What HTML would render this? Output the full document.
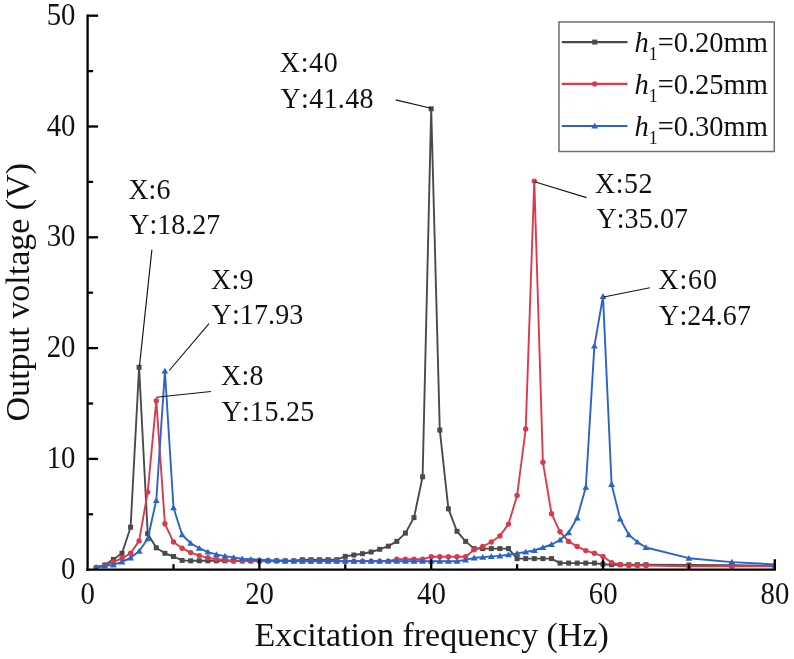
<!DOCTYPE html>
<html lang="en">
<head>
<meta charset="utf-8">
<title>Output voltage vs excitation frequency</title>
<style>
html,body{margin:0;padding:0;background:#fff;}
body{width:794px;height:659px;overflow:hidden;font-family:"Liberation Serif",serif;}
svg{display:block;}
text{font-kerning:none;}
</style>
</head>
<body>
<svg width="794" height="659" viewBox="0 0 794 659">
<rect width="794" height="659" fill="#fff"/>
<defs><clipPath id="plot"><rect x="87.6" y="0" width="687.8" height="570.2"/></clipPath></defs>
<g clip-path="url(#plot)">
<polyline points="96.2,567.5 104.8,565.0 113.4,559.4 122.0,553.3 130.6,527.2 139.1,367.3 147.7,533.7 156.3,547.8 164.9,553.3 173.5,556.5 182.1,560.4 190.7,560.8 199.3,560.8 207.9,560.8 216.4,560.8 225.0,560.8 233.6,560.8 242.2,560.8 250.8,560.8 259.4,560.8 268.0,560.8 276.6,560.8 285.2,560.8 293.8,560.8 302.4,559.7 310.9,559.7 319.5,559.7 328.1,559.7 336.7,559.7 345.3,556.4 353.9,555.0 362.5,553.7 371.1,552.0 379.7,549.3 388.2,546.2 396.8,541.4 405.4,533.1 414.0,517.6 422.6,476.8 431.2,108.8 439.8,430.1 448.4,508.8 457.0,531.3 465.6,541.4 474.1,548.6 482.7,548.6 491.3,548.6 499.9,548.6 508.5,548.6 517.1,558.6 525.7,558.6 534.3,558.6 542.9,558.6 551.5,558.6 560.0,563.1 568.6,563.1 577.2,563.1 585.8,563.1 594.4,563.1 603.0,564.2 611.6,564.7 620.2,564.7 628.8,564.7 637.4,564.7 646.0,564.7 688.9,565.0 731.9,565.3 774.8,565.8" fill="none" stroke="#4a4a4a" stroke-width="1.9" stroke-linejoin="round"/>
<g fill="#4a4a4a">
<rect x="93.7" y="565.0" width="5.0" height="5.0"/>
<rect x="102.3" y="562.5" width="5.0" height="5.0"/>
<rect x="110.9" y="556.9" width="5.0" height="5.0"/>
<rect x="119.5" y="550.8" width="5.0" height="5.0"/>
<rect x="128.1" y="524.7" width="5.0" height="5.0"/>
<rect x="136.6" y="364.8" width="5.0" height="5.0"/>
<rect x="145.2" y="531.2" width="5.0" height="5.0"/>
<rect x="153.8" y="545.3" width="5.0" height="5.0"/>
<rect x="162.4" y="550.8" width="5.0" height="5.0"/>
<rect x="171.0" y="554.0" width="5.0" height="5.0"/>
<rect x="179.6" y="557.9" width="5.0" height="5.0"/>
<rect x="188.2" y="558.3" width="5.0" height="5.0"/>
<rect x="196.8" y="558.3" width="5.0" height="5.0"/>
<rect x="205.4" y="558.3" width="5.0" height="5.0"/>
<rect x="213.9" y="558.3" width="5.0" height="5.0"/>
<rect x="222.5" y="558.3" width="5.0" height="5.0"/>
<rect x="231.1" y="558.3" width="5.0" height="5.0"/>
<rect x="239.7" y="558.3" width="5.0" height="5.0"/>
<rect x="248.3" y="558.3" width="5.0" height="5.0"/>
<rect x="256.9" y="558.3" width="5.0" height="5.0"/>
<rect x="265.5" y="558.3" width="5.0" height="5.0"/>
<rect x="274.1" y="558.3" width="5.0" height="5.0"/>
<rect x="282.7" y="558.3" width="5.0" height="5.0"/>
<rect x="291.3" y="558.3" width="5.0" height="5.0"/>
<rect x="299.9" y="557.2" width="5.0" height="5.0"/>
<rect x="308.4" y="557.2" width="5.0" height="5.0"/>
<rect x="317.0" y="557.2" width="5.0" height="5.0"/>
<rect x="325.6" y="557.2" width="5.0" height="5.0"/>
<rect x="334.2" y="557.2" width="5.0" height="5.0"/>
<rect x="342.8" y="553.9" width="5.0" height="5.0"/>
<rect x="351.4" y="552.5" width="5.0" height="5.0"/>
<rect x="360.0" y="551.2" width="5.0" height="5.0"/>
<rect x="368.6" y="549.5" width="5.0" height="5.0"/>
<rect x="377.2" y="546.8" width="5.0" height="5.0"/>
<rect x="385.8" y="543.7" width="5.0" height="5.0"/>
<rect x="394.3" y="538.9" width="5.0" height="5.0"/>
<rect x="402.9" y="530.6" width="5.0" height="5.0"/>
<rect x="411.5" y="515.1" width="5.0" height="5.0"/>
<rect x="420.1" y="474.3" width="5.0" height="5.0"/>
<rect x="428.7" y="106.3" width="5.0" height="5.0"/>
<rect x="437.3" y="427.6" width="5.0" height="5.0"/>
<rect x="445.9" y="506.3" width="5.0" height="5.0"/>
<rect x="454.5" y="528.8" width="5.0" height="5.0"/>
<rect x="463.1" y="538.9" width="5.0" height="5.0"/>
<rect x="471.6" y="546.1" width="5.0" height="5.0"/>
<rect x="480.2" y="546.1" width="5.0" height="5.0"/>
<rect x="488.8" y="546.1" width="5.0" height="5.0"/>
<rect x="497.4" y="546.1" width="5.0" height="5.0"/>
<rect x="506.0" y="546.1" width="5.0" height="5.0"/>
<rect x="514.6" y="556.1" width="5.0" height="5.0"/>
<rect x="523.2" y="556.1" width="5.0" height="5.0"/>
<rect x="531.8" y="556.1" width="5.0" height="5.0"/>
<rect x="540.4" y="556.1" width="5.0" height="5.0"/>
<rect x="549.0" y="556.1" width="5.0" height="5.0"/>
<rect x="557.5" y="560.6" width="5.0" height="5.0"/>
<rect x="566.1" y="560.6" width="5.0" height="5.0"/>
<rect x="574.7" y="560.6" width="5.0" height="5.0"/>
<rect x="583.3" y="560.6" width="5.0" height="5.0"/>
<rect x="591.9" y="560.6" width="5.0" height="5.0"/>
<rect x="600.5" y="561.7" width="5.0" height="5.0"/>
<rect x="609.1" y="562.2" width="5.0" height="5.0"/>
<rect x="617.7" y="562.2" width="5.0" height="5.0"/>
<rect x="626.3" y="562.2" width="5.0" height="5.0"/>
<rect x="634.9" y="562.2" width="5.0" height="5.0"/>
<rect x="643.5" y="562.2" width="5.0" height="5.0"/>
<rect x="686.4" y="562.5" width="5.0" height="5.0"/>
<rect x="729.4" y="562.8" width="5.0" height="5.0"/>
<rect x="772.3" y="563.3" width="5.0" height="5.0"/>
</g>
<polyline points="96.2,567.5 104.8,565.3 113.4,561.9 122.0,558.4 130.6,553.3 139.1,540.9 147.7,492.1 156.3,400.7 164.9,523.8 173.5,542.0 182.1,548.2 190.7,552.6 199.3,555.6 207.9,557.8 216.4,559.2 225.0,559.9 233.6,561.1 242.2,561.1 250.8,561.1 259.4,561.1 268.0,561.1 276.6,561.1 285.2,561.1 293.8,561.1 302.4,561.1 310.9,561.1 319.5,561.1 328.1,561.1 336.7,561.1 345.3,561.1 353.9,561.1 362.5,561.1 371.1,561.1 379.7,561.1 388.2,561.1 396.8,559.2 405.4,559.2 414.0,559.2 422.6,559.2 431.2,556.8 439.8,556.8 448.4,556.8 457.0,556.8 465.6,556.8 474.1,549.8 482.7,546.5 491.3,542.0 499.9,535.9 508.5,524.1 517.1,495.5 525.7,429.0 534.3,181.1 542.9,462.2 551.5,513.7 560.0,531.8 568.6,541.4 577.2,546.5 585.8,550.6 594.4,553.3 603.0,556.4 611.6,562.6 620.2,564.6 628.8,565.5 637.4,565.5 646.0,565.5 688.9,566.2 731.9,566.2 774.8,566.2" fill="none" stroke="#db3a4c" stroke-width="1.9" stroke-linejoin="round"/>
<g fill="#db3a4c">
<circle cx="96.2" cy="567.5" r="2.7"/>
<circle cx="104.8" cy="565.3" r="2.7"/>
<circle cx="113.4" cy="561.9" r="2.7"/>
<circle cx="122.0" cy="558.4" r="2.7"/>
<circle cx="130.6" cy="553.3" r="2.7"/>
<circle cx="139.1" cy="540.9" r="2.7"/>
<circle cx="147.7" cy="492.1" r="2.7"/>
<circle cx="156.3" cy="400.7" r="2.7"/>
<circle cx="164.9" cy="523.8" r="2.7"/>
<circle cx="173.5" cy="542.0" r="2.7"/>
<circle cx="182.1" cy="548.2" r="2.7"/>
<circle cx="190.7" cy="552.6" r="2.7"/>
<circle cx="199.3" cy="555.6" r="2.7"/>
<circle cx="207.9" cy="557.8" r="2.7"/>
<circle cx="216.4" cy="559.2" r="2.7"/>
<circle cx="225.0" cy="559.9" r="2.7"/>
<circle cx="233.6" cy="561.1" r="2.7"/>
<circle cx="242.2" cy="561.1" r="2.7"/>
<circle cx="250.8" cy="561.1" r="2.7"/>
<circle cx="259.4" cy="561.1" r="2.7"/>
<circle cx="268.0" cy="561.1" r="2.7"/>
<circle cx="276.6" cy="561.1" r="2.7"/>
<circle cx="285.2" cy="561.1" r="2.7"/>
<circle cx="293.8" cy="561.1" r="2.7"/>
<circle cx="302.4" cy="561.1" r="2.7"/>
<circle cx="310.9" cy="561.1" r="2.7"/>
<circle cx="319.5" cy="561.1" r="2.7"/>
<circle cx="328.1" cy="561.1" r="2.7"/>
<circle cx="336.7" cy="561.1" r="2.7"/>
<circle cx="345.3" cy="561.1" r="2.7"/>
<circle cx="353.9" cy="561.1" r="2.7"/>
<circle cx="362.5" cy="561.1" r="2.7"/>
<circle cx="371.1" cy="561.1" r="2.7"/>
<circle cx="379.7" cy="561.1" r="2.7"/>
<circle cx="388.2" cy="561.1" r="2.7"/>
<circle cx="396.8" cy="559.2" r="2.7"/>
<circle cx="405.4" cy="559.2" r="2.7"/>
<circle cx="414.0" cy="559.2" r="2.7"/>
<circle cx="422.6" cy="559.2" r="2.7"/>
<circle cx="431.2" cy="556.8" r="2.7"/>
<circle cx="439.8" cy="556.8" r="2.7"/>
<circle cx="448.4" cy="556.8" r="2.7"/>
<circle cx="457.0" cy="556.8" r="2.7"/>
<circle cx="465.6" cy="556.8" r="2.7"/>
<circle cx="474.1" cy="549.8" r="2.7"/>
<circle cx="482.7" cy="546.5" r="2.7"/>
<circle cx="491.3" cy="542.0" r="2.7"/>
<circle cx="499.9" cy="535.9" r="2.7"/>
<circle cx="508.5" cy="524.1" r="2.7"/>
<circle cx="517.1" cy="495.5" r="2.7"/>
<circle cx="525.7" cy="429.0" r="2.7"/>
<circle cx="534.3" cy="181.1" r="2.7"/>
<circle cx="542.9" cy="462.2" r="2.7"/>
<circle cx="551.5" cy="513.7" r="2.7"/>
<circle cx="560.0" cy="531.8" r="2.7"/>
<circle cx="568.6" cy="541.4" r="2.7"/>
<circle cx="577.2" cy="546.5" r="2.7"/>
<circle cx="585.8" cy="550.6" r="2.7"/>
<circle cx="594.4" cy="553.3" r="2.7"/>
<circle cx="603.0" cy="556.4" r="2.7"/>
<circle cx="611.6" cy="562.6" r="2.7"/>
<circle cx="620.2" cy="564.6" r="2.7"/>
<circle cx="628.8" cy="565.5" r="2.7"/>
<circle cx="637.4" cy="565.5" r="2.7"/>
<circle cx="646.0" cy="565.5" r="2.7"/>
<circle cx="688.9" cy="566.2" r="2.7"/>
<circle cx="731.9" cy="566.2" r="2.7"/>
<circle cx="774.8" cy="566.2" r="2.7"/>
</g>
<polyline points="96.2,567.5 104.8,565.8 113.4,564.9 122.0,561.9 130.6,557.8 139.1,551.3 147.7,538.7 156.3,500.3 164.9,371.0 173.5,507.7 182.1,534.7 190.7,543.2 199.3,548.2 207.9,552.1 216.4,554.4 225.0,556.1 233.6,557.4 242.2,558.6 250.8,559.2 259.4,559.7 268.0,560.2 276.6,560.5 285.2,560.8 293.8,561.1 302.4,561.2 310.9,561.2 319.5,561.2 328.1,561.2 336.7,561.2 345.3,561.2 353.9,561.2 362.5,561.2 371.1,561.2 379.7,561.2 388.2,561.2 396.8,561.2 405.4,561.2 414.0,561.2 422.6,561.2 431.2,561.2 439.8,561.2 448.4,561.2 457.0,561.2 465.6,559.9 474.1,557.8 482.7,557.3 491.3,556.4 499.9,555.9 508.5,554.7 517.1,553.4 525.7,552.0 534.3,550.5 542.9,547.5 551.5,544.5 560.0,540.0 568.6,532.7 577.2,517.8 585.8,487.2 594.4,345.9 603.0,296.4 611.6,484.4 620.2,519.0 628.8,534.7 637.4,542.1 646.0,547.5 688.9,558.2 731.9,562.1 774.8,564.4" fill="none" stroke="#2a64c8" stroke-width="1.9" stroke-linejoin="round"/>
<g fill="#2a64c8">
<polygon points="96.2,564.2 92.8,570.0 99.6,570.0"/>
<polygon points="104.8,562.6 101.4,568.3 108.2,568.3"/>
<polygon points="113.4,561.7 109.9,567.5 116.8,567.5"/>
<polygon points="122.0,558.7 118.5,564.5 125.4,564.5"/>
<polygon points="130.6,554.6 127.1,560.4 134.0,560.4"/>
<polygon points="139.1,548.1 135.7,553.8 142.6,553.8"/>
<polygon points="147.7,535.4 144.3,541.2 151.1,541.2"/>
<polygon points="156.3,497.1 152.9,502.9 159.7,502.9"/>
<polygon points="164.9,367.8 161.5,373.6 168.3,373.6"/>
<polygon points="173.5,504.4 170.1,510.2 176.9,510.2"/>
<polygon points="182.1,531.4 178.7,537.2 185.5,537.2"/>
<polygon points="190.7,540.0 187.3,545.7 194.1,545.7"/>
<polygon points="199.3,545.0 195.8,550.7 202.7,550.7"/>
<polygon points="207.9,548.8 204.4,554.6 211.3,554.6"/>
<polygon points="216.4,551.2 213.0,556.9 219.9,556.9"/>
<polygon points="225.0,552.8 221.6,558.6 228.5,558.6"/>
<polygon points="233.6,554.2 230.2,559.9 237.0,559.9"/>
<polygon points="242.2,555.4 238.8,561.1 245.6,561.1"/>
<polygon points="250.8,555.9 247.4,561.7 254.2,561.7"/>
<polygon points="259.4,556.5 256.0,562.2 262.8,562.2"/>
<polygon points="268.0,556.9 264.6,562.7 271.4,562.7"/>
<polygon points="276.6,557.3 273.2,563.0 280.0,563.0"/>
<polygon points="285.2,557.6 281.7,563.4 288.6,563.4"/>
<polygon points="293.8,557.8 290.3,563.6 297.2,563.6"/>
<polygon points="302.4,557.9 298.9,563.7 305.8,563.7"/>
<polygon points="310.9,557.9 307.5,563.7 314.4,563.7"/>
<polygon points="319.5,557.9 316.1,563.7 322.9,563.7"/>
<polygon points="328.1,557.9 324.7,563.7 331.5,563.7"/>
<polygon points="336.7,557.9 333.3,563.7 340.1,563.7"/>
<polygon points="345.3,557.9 341.9,563.7 348.7,563.7"/>
<polygon points="353.9,557.9 350.5,563.7 357.3,563.7"/>
<polygon points="362.5,557.9 359.1,563.7 365.9,563.7"/>
<polygon points="371.1,557.9 367.6,563.7 374.5,563.7"/>
<polygon points="379.7,557.9 376.2,563.7 383.1,563.7"/>
<polygon points="388.2,557.9 384.8,563.7 391.7,563.7"/>
<polygon points="396.8,557.9 393.4,563.7 400.3,563.7"/>
<polygon points="405.4,557.9 402.0,563.7 408.8,563.7"/>
<polygon points="414.0,557.9 410.6,563.7 417.4,563.7"/>
<polygon points="422.6,557.9 419.2,563.7 426.0,563.7"/>
<polygon points="431.2,557.9 427.8,563.7 434.6,563.7"/>
<polygon points="439.8,557.9 436.4,563.7 443.2,563.7"/>
<polygon points="448.4,557.9 445.0,563.7 451.8,563.7"/>
<polygon points="457.0,557.9 453.6,563.7 460.4,563.7"/>
<polygon points="465.6,556.7 462.1,562.5 469.0,562.5"/>
<polygon points="474.1,554.6 470.7,560.4 477.6,560.4"/>
<polygon points="482.7,554.1 479.3,559.8 486.2,559.8"/>
<polygon points="491.3,553.2 487.9,558.9 494.8,558.9"/>
<polygon points="499.9,552.6 496.5,558.4 503.3,558.4"/>
<polygon points="508.5,551.5 505.1,557.3 511.9,557.3"/>
<polygon points="517.1,550.2 513.7,555.9 520.5,555.9"/>
<polygon points="525.7,548.7 522.3,554.5 529.1,554.5"/>
<polygon points="534.3,547.3 530.9,553.1 537.7,553.1"/>
<polygon points="542.9,544.3 539.5,550.1 546.3,550.1"/>
<polygon points="551.5,541.3 548.0,547.1 554.9,547.1"/>
<polygon points="560.0,536.8 556.6,542.5 563.5,542.5"/>
<polygon points="568.6,529.5 565.2,535.2 572.1,535.2"/>
<polygon points="577.2,514.6 573.8,520.4 580.6,520.4"/>
<polygon points="585.8,483.9 582.4,489.7 589.2,489.7"/>
<polygon points="594.4,342.6 591.0,348.4 597.8,348.4"/>
<polygon points="603.0,293.1 599.6,298.9 606.4,298.9"/>
<polygon points="611.6,481.1 608.2,486.9 615.0,486.9"/>
<polygon points="620.2,515.7 616.8,521.5 623.6,521.5"/>
<polygon points="628.8,531.4 625.4,537.2 632.2,537.2"/>
<polygon points="637.4,538.9 633.9,544.6 640.8,544.6"/>
<polygon points="646.0,544.3 642.5,550.1 649.4,550.1"/>
<polygon points="688.9,554.9 685.5,560.7 692.3,560.7"/>
<polygon points="731.9,558.8 728.4,564.6 735.3,564.6"/>
<polygon points="774.8,561.1 771.4,566.9 778.2,566.9"/>
</g>
</g>
<g stroke="#000" stroke-width="2.3" fill="none" stroke-linecap="butt">
<path d="M87.6,14.6 V570.9"/>
<path d="M86.4,569.7 H776.0"/>
<path d="M87.6,514.3 h5.5"/>
<path d="M87.6,458.9 h10.5"/>
<path d="M87.6,403.5 h5.5"/>
<path d="M87.6,348.1 h10.5"/>
<path d="M87.6,292.7 h5.5"/>
<path d="M87.6,237.3 h10.5"/>
<path d="M87.6,181.9 h5.5"/>
<path d="M87.6,126.5 h10.5"/>
<path d="M87.6,71.1 h5.5"/>
<path d="M87.6,15.7 h10.5"/>
<path d="M173.5,569.7 v-5.5"/>
<path d="M259.4,569.7 v-10.5"/>
<path d="M345.3,569.7 v-5.5"/>
<path d="M431.2,569.7 v-10.5"/>
<path d="M517.1,569.7 v-5.5"/>
<path d="M603.0,569.7 v-10.5"/>
<path d="M688.9,569.7 v-5.5"/>
<path d="M774.8,569.7 v-10.5"/>
</g>
<g font-family="'Liberation Serif', serif" font-size="30.8" fill="#111">
<text transform="translate(75.5,578.7) scale(0.935,1)" text-anchor="end">0</text>
<text transform="translate(75.5,467.9) scale(0.935,1)" text-anchor="end">10</text>
<text transform="translate(75.5,357.1) scale(0.935,1)" text-anchor="end">20</text>
<text transform="translate(75.5,246.3) scale(0.935,1)" text-anchor="end">30</text>
<text transform="translate(75.5,135.5) scale(0.935,1)" text-anchor="end">40</text>
<text transform="translate(75.5,24.7) scale(0.935,1)" text-anchor="end">50</text>
<text transform="translate(87.8,604) scale(0.935,1)" text-anchor="middle">0</text>
<text transform="translate(259.6,604) scale(0.935,1)" text-anchor="middle">20</text>
<text transform="translate(431.4,604) scale(0.935,1)" text-anchor="middle">40</text>
<text transform="translate(603.2,604) scale(0.935,1)" text-anchor="middle">60</text>
<text transform="translate(775.0,604) scale(0.935,1)" text-anchor="middle">80</text>
</g>
<g font-family="'Liberation Serif', serif" font-size="34.6" fill="#111">
<text x="254.5" y="646" textLength="354.3" lengthAdjust="spacingAndGlyphs">Excitation frequency (Hz)</text>
<text transform="translate(29.4,421.6) rotate(-90)" textLength="258.6" lengthAdjust="spacingAndGlyphs">Output voltage (V)</text>
</g>
<g font-family="'Liberation Serif', serif" font-size="29.6" fill="#111">
<text transform="translate(128.4,198.9) scale(0.946,1)">X:6</text>
<text transform="translate(129.3,233.9) scale(0.946,1)">Y:18.27</text>
<text transform="translate(279.8,72.4) scale(0.946,1)" letter-spacing="0.70">X:40</text>
<text transform="translate(280.5,107.7) scale(0.946,1)" letter-spacing="0.35">Y:41.48</text>
<text transform="translate(211.1,288.6) scale(0.946,1)" letter-spacing="0.21">X:9</text>
<text transform="translate(211.6,323.9) scale(0.946,1)" letter-spacing="0.14">Y:17.93</text>
<text transform="translate(221.1,385.1) scale(0.946,1)" letter-spacing="0.26">X:8</text>
<text transform="translate(221.6,421.2) scale(0.946,1)" letter-spacing="0.28">Y:15.25</text>
<text transform="translate(595.1,192.8) scale(0.946,1)" letter-spacing="0.49">X:52</text>
<text transform="translate(596.4,228.2) scale(0.946,1)" letter-spacing="0.11">Y:35.07</text>
<text transform="translate(658.6,289.2) scale(0.946,1)" letter-spacing="0.81">X:60</text>
<text transform="translate(659.0,325.3) scale(0.946,1)" letter-spacing="0.18">Y:24.67</text>
</g>
<g stroke="#151515" stroke-width="1.15">
<line x1="151.9" y1="249.6" x2="139.5" y2="365.6"/>
<line x1="395.7" y1="99.9" x2="431" y2="108.3"/>
<line x1="209" y1="323.7" x2="169.2" y2="370.5"/>
<line x1="211" y1="391.5" x2="156.2" y2="397.3"/>
<line x1="534.6" y1="181.7" x2="586.5" y2="197.6"/>
<line x1="603.7" y1="297" x2="649.9" y2="287.8"/>
</g>
<rect x="559" y="22" width="215.3" height="129.5" fill="#fff" stroke="#6e6e6e" stroke-width="1.5"/>
<line x1="561.8" y1="42.1" x2="627.5" y2="42.1" stroke="#4a4a4a" stroke-width="2.1"/>
<g fill="#4a4a4a"><rect x="592.2" y="39.6" width="5.0" height="5.0"/></g>
<text transform="translate(634.5,52.3) scale(0.963,1)" font-family="'Liberation Serif', serif" font-size="29.6" fill="#111"><tspan font-style="italic">h</tspan><tspan font-size="18.5" dy="7.4">1</tspan><tspan dy="-7.4">=0.20mm</tspan></text>
<line x1="561.8" y1="83.9" x2="627.5" y2="83.9" stroke="#db3a4c" stroke-width="2.1"/>
<g fill="#db3a4c"><circle cx="594.7" cy="83.9" r="2.7"/></g>
<text transform="translate(634.5,94.1) scale(0.963,1)" font-family="'Liberation Serif', serif" font-size="29.6" fill="#111"><tspan font-style="italic">h</tspan><tspan font-size="18.5" dy="7.4">1</tspan><tspan dy="-7.4">=0.25mm</tspan></text>
<line x1="561.8" y1="126.0" x2="627.5" y2="126.0" stroke="#2a64c8" stroke-width="2.1"/>
<g fill="#2a64c8"><polygon points="594.7,122.8 591.3,128.5 598.1,128.5"/></g>
<text transform="translate(634.5,136.2) scale(0.963,1)" font-family="'Liberation Serif', serif" font-size="29.6" fill="#111"><tspan font-style="italic">h</tspan><tspan font-size="18.5" dy="7.4">1</tspan><tspan dy="-7.4">=0.30mm</tspan></text>
</svg>
</body>
</html>
